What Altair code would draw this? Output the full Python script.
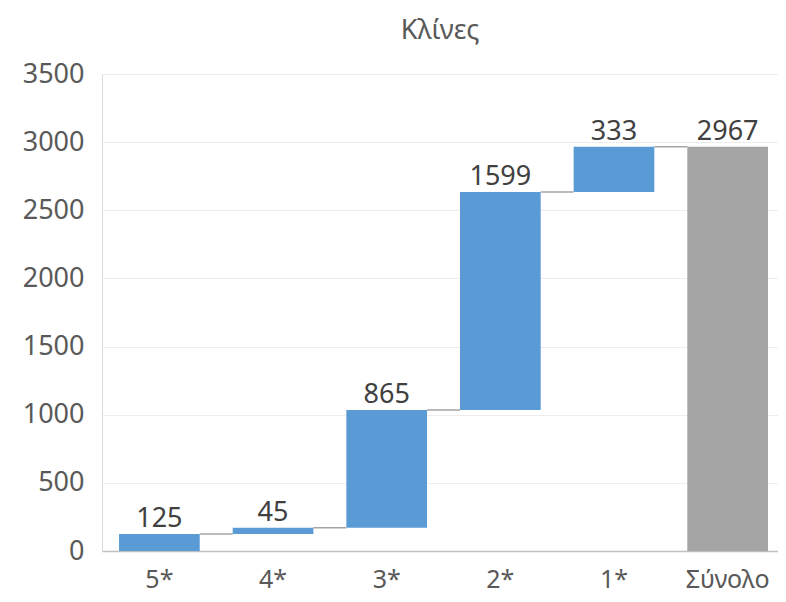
import altair as alt
import pandas as pd

categories = ["5*", "4*", "3*", "2*", "1*", "Σύνολο"]
increments = [125, 45, 865, 1599, 333]
total = 2967
y_ticks = [0, 500, 1000, 1500, 2000, 2500, 3000, 3500]

FONT = "Noto Sans"
BLUE = "#5B9BD5"
GREY = "#A5A5A5"

rows = []
cum = 0
for cat, v in zip(categories[:-1], increments):
    rows.append({"cat": cat, "start": cum, "end": cum + v, "label": str(v), "kind": "inc"})
    cum += v
rows.append({"cat": categories[-1], "start": 0, "end": total, "label": str(total), "kind": "total"})
bars_df = pd.DataFrame(rows)

conn_rows = []
for i in range(len(categories) - 1):
    conn_rows.append({"cat": categories[i], "next": categories[i + 1], "level": rows[i]["end"]})
conn_df = pd.DataFrame(conn_rows)

x_scale = alt.Scale(domain=categories, paddingInner=0.29, paddingOuter=0.119, align=0.63)
y_scale = alt.Scale(domain=[0, 3500], nice=False)

x_enc = alt.X(
    "cat:N",
    scale=x_scale,
    sort=categories,
    axis=alt.Axis(
        title=None,
        labelAngle=0,
        labelFont=FONT,
        labelFontSize=25,
        labelColor="#595959",
        labelPadding=16,
        ticks=False,
        domainColor="#BFBFBF",
        domainWidth=1.5,
        grid=False,
    ),
)

y_axis = alt.Axis(
    title=None,
    values=y_ticks,
    format="d",
    labelFont=FONT,
    labelFontSize=27,
    labelColor="#595959",
    labelPadding=18,
    ticks=False,
    domainColor="#D9D9D9",
    gridColor="#EDEDED",
    gridWidth=1,
)

bars = alt.Chart(bars_df).mark_bar().encode(
    x=x_enc,
    y=alt.Y("start:Q", scale=y_scale, axis=y_axis),
    y2="end:Q",
    color=alt.Color("kind:N", scale=alt.Scale(domain=["inc", "total"], range=[BLUE, GREY]), legend=None),
)

labels = alt.Chart(bars_df).mark_text(
    font=FONT, fontSize=27, color="#404040", baseline="alphabetic", dy=-7
).encode(
    x=alt.X("cat:N", scale=x_scale, sort=categories),
    y=alt.Y("end:Q", scale=y_scale),
    text="label:N",
)

connectors = alt.Chart(conn_df).mark_rule(color=GREY, strokeWidth=1.5).encode(
    x=alt.X("cat:N", scale=x_scale, sort=categories, bandPosition=1),
    x2=alt.X2("next", bandPosition=0),
    y=alt.Y("level:Q", scale=y_scale),
)

chart = (
    alt.layer(bars, connectors, labels)
    .properties(
        width=676,
        height=477,
        autosize=alt.AutoSizeParams(type="none"),
        padding={"left": 94, "top": 66, "right": 0, "bottom": 43},
        title=alt.TitleParams(
            "Κλίνες", font=FONT, fontSize=27, fontWeight="normal", color="#595959", offset=15
        ),
    )
    .configure_view(stroke=None)
)

chart.save("out.html", embed_options={"renderer": "svg", "actions": False})
